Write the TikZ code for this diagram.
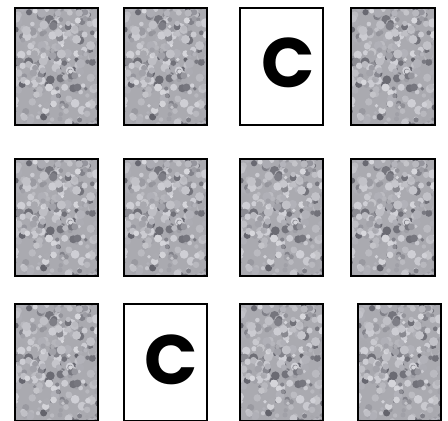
\documentclass[tikz,border=0pt]{standalone}
\usepackage{fontspec}
\newfontfamily\cardfont{Poppins}
\definecolor{tbase}{RGB}{170,170,176}
\definecolor{tdark}{RGB}{40,40,50}
\definecolor{tlight}{RGB}{232,232,237}
\newcommand\cardtexture{%
  \pgfmathsetseed{11}%
  \pgfsetfillcolor{tbase}%
  \pgfpathrectangle{\pgfpointxy{0}{0}}{\pgfpointxy{86}{120}}%
  \pgfusepath{fill}%
  \foreach \i in {1,...,300}{%
    \pgfmathsetmacro\myx{rnd*86}%
    \pgfmathsetmacro\myy{rnd*120}%
    \pgfmathsetmacro\myr{1.8+rnd*2.8}%
    \pgfmathtruncatemacro\myp{rnd<0.28 ? 38+rnd*32 : 8+rnd*30}%
    \pgfsetfillcolor{tdark!\myp!tlight}%
    \pgfpathcircle{\pgfpointxy{\myx}{\myy}}{\myr pt}%
    \pgfusepath{fill}%
  }%
}
\newcommand\backcard[3]{%
  \begin{scope}
    \clip ({#2-42},{#3-59}) rectangle ({#2+42},{#3+59});
    \begin{scope}[shift={({#2-43},{#3-60})}]\cardtexture\end{scope}
  \end{scope}
  \node[card] (#1) at (#2,#3) {};
}
\tikzset{
  card/.style={draw=black, line width=2pt, minimum width=83.5pt, minimum height=117.5pt, inner sep=0pt},
  facecard/.style={card, fill=white},
  letter/.style={inner sep=0pt, font=\cardfont\bfseries\fontsize{70}{70}\selectfont}
}
\begin{document}
\begin{tikzpicture}[x=1pt,y=-1pt]
\useasboundingbox (0,0) rectangle (448,421);
\clip (0,0) rectangle (448,421);
% row 1
\backcard{r1c1}{56.5}{66.5}
\backcard{r1c2}{165.5}{66.5}
\node[facecard] (r1c3) at (281.5,66.5) {};
\backcard{r1c4}{393}{66.5}
% row 2
\backcard{r2c1}{56.5}{217.5}
\backcard{r2c2}{165.5}{217.5}
\backcard{r2c3}{281.5}{217.5}
\backcard{r2c4}{393}{217.5}
% row 3
\backcard{r3c1}{56.5}{362.5}
\node[facecard] (r3c2) at (165.5,362.5) {};
\backcard{r3c3}{281.5}{362.5}
\backcard{r3c4}{399.5}{362.5}
% letters
\node[letter] (l1) at (288,62.5) {C};
\node[letter] (l2) at (171,359.5) {C};
\end{tikzpicture}
\end{document}
